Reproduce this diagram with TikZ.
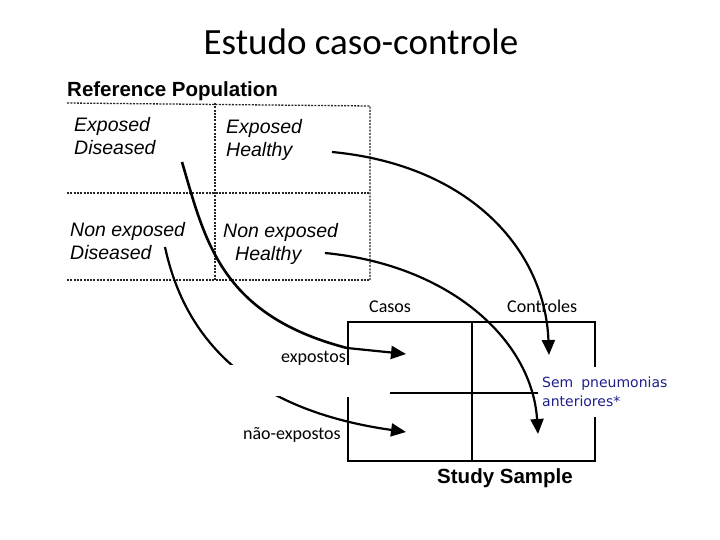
\documentclass[tikz,border=0pt]{standalone}
\usepackage{fontspec}
\setmainfont{Carlito}
\newfontfamily\arialf{Liberation Sans}
\newfontfamily\dejaf{DejaVu Sans}
\usetikzlibrary{arrows.meta}
\definecolor{navy}{RGB}{31,31,140}
\tikzset{
  grid/.style={line width=1.3pt, dash pattern=on 2pt off 1.3pt, black!85},
  sample/.style={line width=2pt, black},
  curve/.style={line width=2.2pt, black},
  arr/.style={curve, -{Triangle[length=15pt,width=13pt]}},
  cell/.style={font=\arialf\itshape\fontsize{19.5}{23}\selectfont, anchor=base west, inner sep=0pt, align=left},
  lab/.style={font=\fontsize{18}{20}\selectfont, inner sep=0pt},
  head/.style={font=\arialf\bfseries\fontsize{20.5}{24}\selectfont, inner sep=0pt, anchor=base west}
}
\begin{document}
\begin{tikzpicture}[x=1pt,y=-1pt]
\useasboundingbox[fill=white] (0,0) rectangle (720,540);
% title
\node[font=\fontsize{37}{40}\selectfont, anchor=base, inner sep=0pt] (title) at (361,55) {Estudo caso-controle};
% reference population
\node[head] (refpop) at (67,97) {Reference Population};
\draw[grid] (67,103) -- (370,106) -- (370,280);
\draw[grid] (67,193) -- (370,193);
\draw[grid] (67,280) -- (370,280);
\draw[grid] (215,103) -- (215,280);
\node[cell] (ed) at (74,155) {Exposed\\Diseased};
\node[cell] (eh) at (226,157) {Exposed\\Healthy};
\node[cell] (nd) at (70,259) {Non exposed\\Diseased};
\node[cell] (nh) at (223,260) {Non exposed\\\hspace*{12pt}Healthy};
% study sample
\draw[sample] (348,365) -- (348,322) -- (595,322) -- (595,461) -- (348,461) -- (348,397);
\draw[sample] (472,322) -- (472,461);
\draw[sample] (390,393) -- (595,393);
\node[head, anchor=base] (study) at (505,483) {Study Sample};
\node[lab, anchor=base west] (casos) at (369,312) {Casos};
\node[lab, anchor=base west] (controles) at (507,312) {Controles};
% coordinates
\coordinate (c1s) at (182,162);
\coordinate (c1m) at (347,348);
\coordinate (c1e) at (406,354);
\coordinate (c2s) at (165,247);
\coordinate (c2e) at (406,432);
\coordinate (c3s) at (332,152);
\coordinate (c3e) at (549,355);
\coordinate (c4s) at (325,253);
\coordinate (c4e) at (538,434);
% connectors
\draw[curve, line width=2.6pt] (c1s) .. controls (205,240) and (220,315) .. (c1m);
\draw[arr] (c1m) -- (c1e);
\draw[arr] (c2s) .. controls (185,340) and (250,410) .. (c2e);
\draw[arr] (c3s) .. controls (470,165) and (545,250) .. (c3e);
\draw[arr] (c4s) .. controls (450,265) and (532,340) .. (c4e);
% white band
\fill[white] (225,365) rectangle (351,396);
\node[lab, anchor=base east] (exp) at (346,362) {expostos};
\node[lab, anchor=base east] (nexp) at (341,439) {não-expostos};
\node[fill=white, text=navy, font=\dejaf\fontsize{14}{19}\selectfont, align=left, anchor=north west, inner sep=0pt, text width=165pt, minimum height=50pt] (sem) at (538,367) {\hspace*{4pt}Sem\hspace{8pt}pneumonias\\\hspace*{4pt}anteriores*};
\end{tikzpicture}
\end{document}
